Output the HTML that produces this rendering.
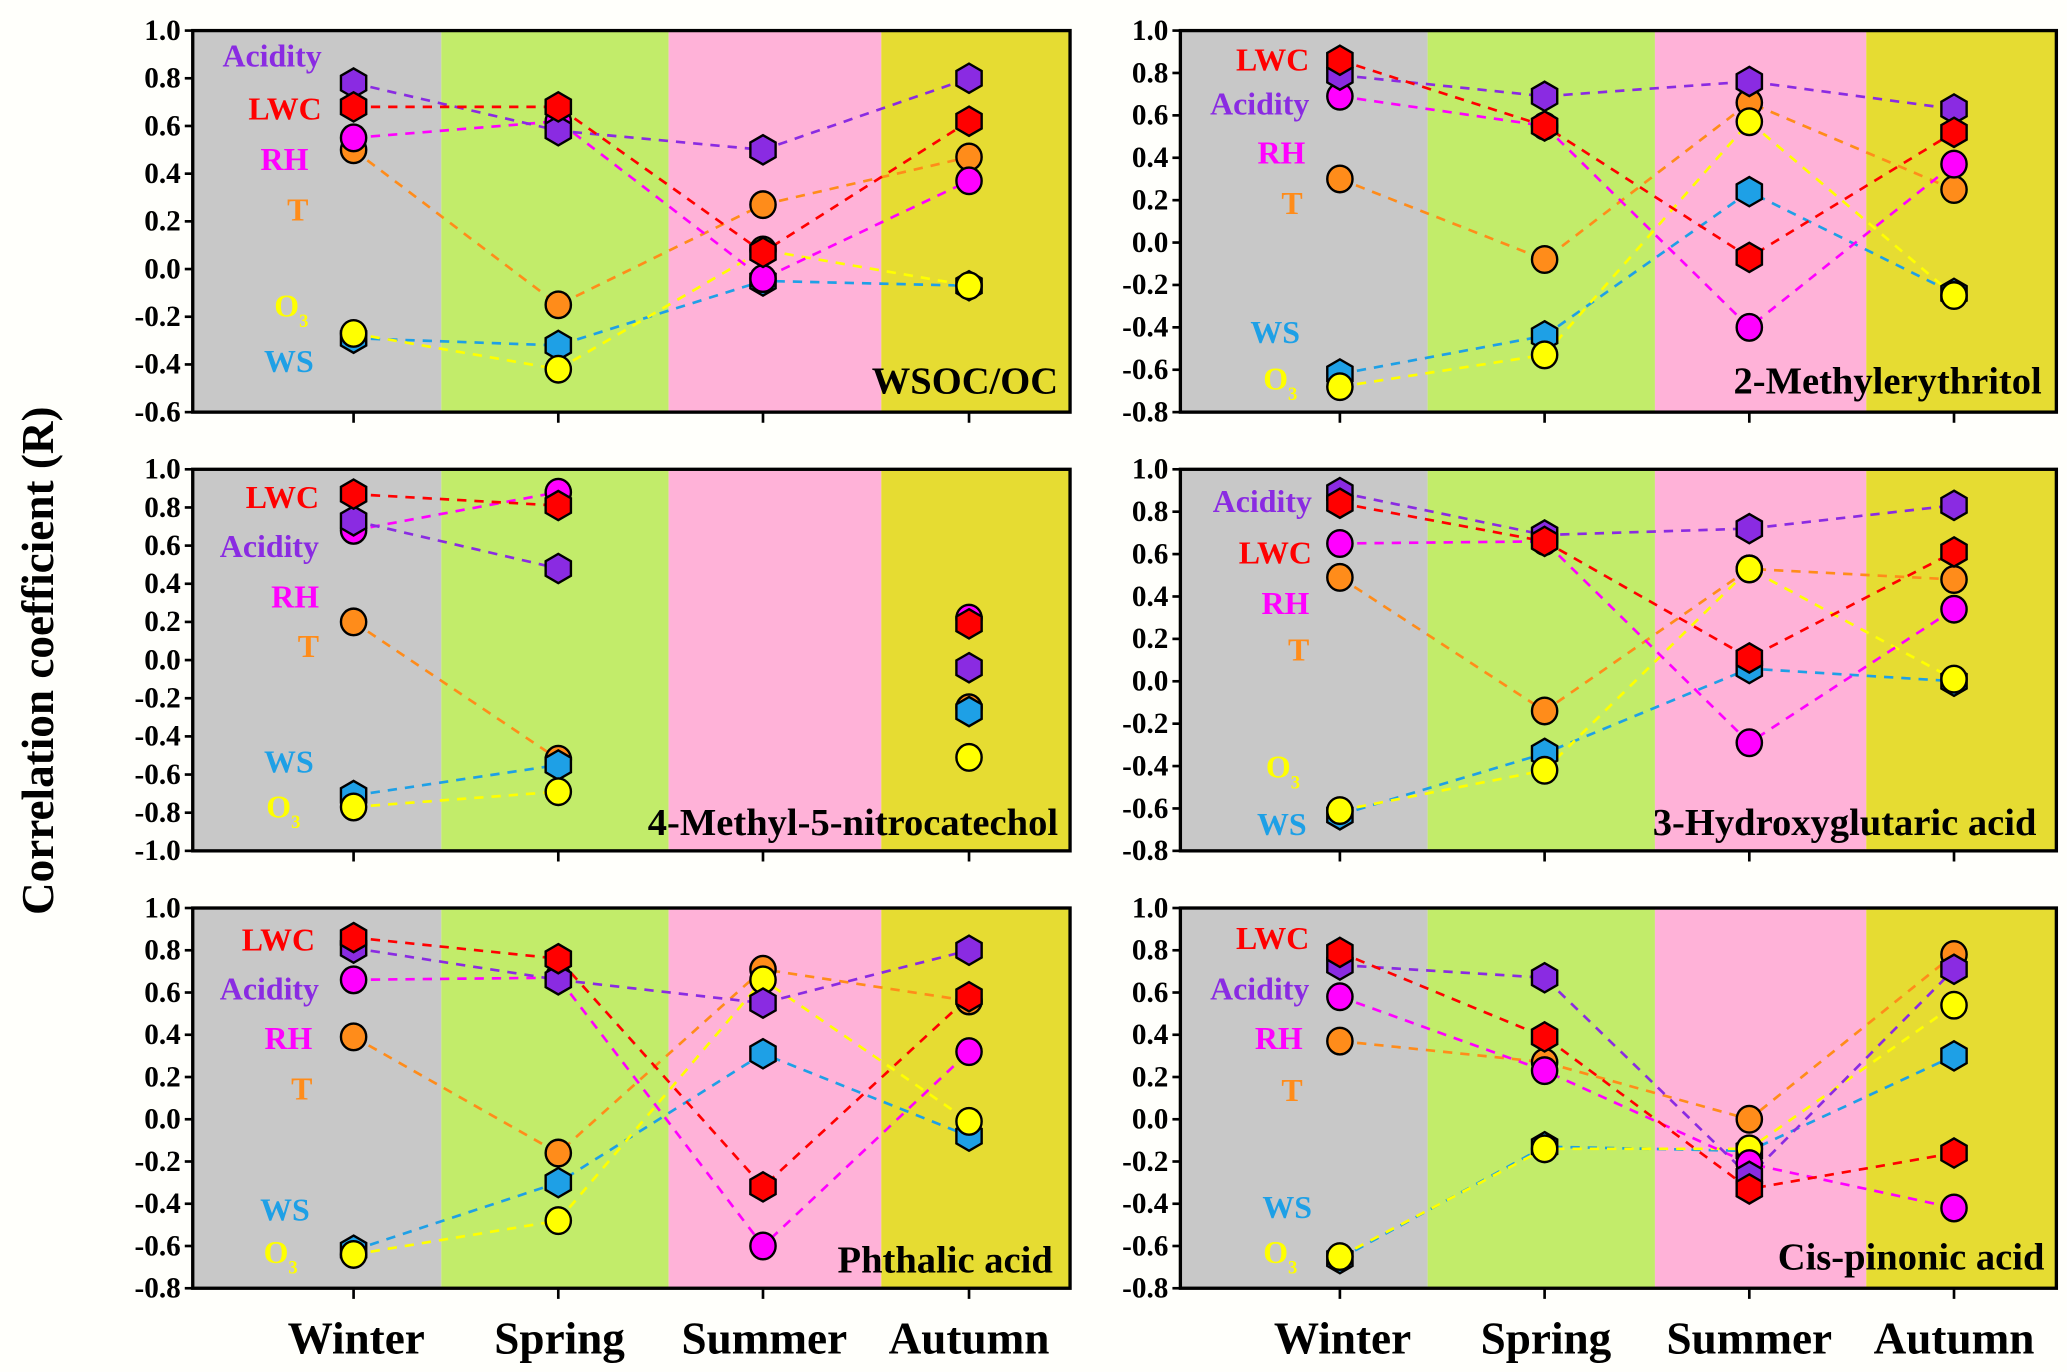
<!DOCTYPE html>
<html><head><meta charset="utf-8">
<style>
html,body{margin:0;padding:0;background:#fffffb;}
svg{display:block;font-family:"Liberation Serif","DejaVu Serif",serif;}
svg text{font-family:"Liberation Serif","DejaVu Serif",serif;font-weight:bold;}
</style></head>
<body>
<svg id="s" width="2067" height="1372" viewBox="0 0 1555 1032" preserveAspectRatio="none" xmlns="http://www.w3.org/2000/svg" font-family="Liberation Serif, serif" font-weight="bold">
<rect width="1555" height="1032" fill="#fffffb"/>
<g id="bg"></g>
<g id="ln"></g>
<g id="mk"></g>
<g id="ax"></g>
<g font-size="24" text-anchor="end" font-family="Liberation Serif, serif">
<!-- P1 -->
<text x="242" y="50" fill="#8A2BE2">Acidity</text>
<text x="242" y="90" fill="#FF0000">LWC</text>
<text x="232" y="128" fill="#FF00FF">RH</text>
<text x="232" y="166" fill="#FF8C1A">T</text>
<text x="232" y="238" fill="#FFFF00">O<tspan font-size="14" dy="8">3</tspan></text>
<text x="236" y="280" fill="#1EA0E6">WS</text>
<!-- P2 -->
<text x="985" y="53" fill="#FF0000">LWC</text>
<text x="985" y="86" fill="#8A2BE2">Acidity</text>
<text x="982" y="123" fill="#FF00FF">RH</text>
<text x="980" y="161" fill="#FF8C1A">T</text>
<text x="978" y="258" fill="#1EA0E6">WS</text>
<text x="976" y="293" fill="#FFFF00">O<tspan font-size="14" dy="8">3</tspan></text>
<!-- P3 -->
<text x="240" y="382" fill="#FF0000">LWC</text>
<text x="240" y="419" fill="#8A2BE2">Acidity</text>
<text x="240" y="457" fill="#FF00FF">RH</text>
<text x="240" y="494" fill="#FF8C1A">T</text>
<text x="236" y="581" fill="#1EA0E6">WS</text>
<text x="226" y="615" fill="#FFFF00">O<tspan font-size="14" dy="8">3</tspan></text>
<!-- P4 -->
<text x="987" y="385" fill="#8A2BE2">Acidity</text>
<text x="987" y="424" fill="#FF0000">LWC</text>
<text x="985" y="462" fill="#FF00FF">RH</text>
<text x="985" y="497" fill="#FF8C1A">T</text>
<text x="978" y="585" fill="#FFFF00">O<tspan font-size="14" dy="8">3</tspan></text>
<text x="983" y="628" fill="#1EA0E6">WS</text>
<!-- P5 -->
<text x="237" y="715" fill="#FF0000">LWC</text>
<text x="240" y="752" fill="#8A2BE2">Acidity</text>
<text x="235" y="789" fill="#FF00FF">RH</text>
<text x="235" y="827" fill="#FF8C1A">T</text>
<text x="233" y="918" fill="#1EA0E6">WS</text>
<text x="224" y="950" fill="#FFFF00">O<tspan font-size="14" dy="8">3</tspan></text>
<!-- P6 -->
<text x="985" y="714" fill="#FF0000">LWC</text>
<text x="985" y="752" fill="#8A2BE2">Acidity</text>
<text x="980" y="789" fill="#FF00FF">RH</text>
<text x="980" y="828" fill="#FF8C1A">T</text>
<text x="987" y="916" fill="#1EA0E6">WS</text>
<text x="976" y="950" fill="#FFFF00">O<tspan font-size="14" dy="8">3</tspan></text>
</g>
<g font-size="29" text-anchor="end" fill="#000" font-family="Liberation Serif, serif">
<text x="796" y="296">WSOC/OC</text>
<text x="1536" y="296">2-Methylerythritol</text>
<text x="796" y="628">4-Methyl-5-nitrocatechol</text>
<text x="1532" y="628">3-Hydroxyglutaric acid</text>
<text x="792" y="957">Phthalic acid</text>
<text x="1538" y="955">Cis-pinonic acid</text>
</g>
<g font-size="34" text-anchor="middle" fill="#000" font-family="Liberation Serif, serif">
<text x="268" y="1018">Winter</text>
<text x="421" y="1018">Spring</text>
<text x="575" y="1018">Summer</text>
<text x="729" y="1018">Autumn</text>
<text x="1010" y="1018">Winter</text>
<text x="1163" y="1018">Spring</text>
<text x="1316" y="1018">Summer</text>
<text x="1470" y="1018">Autumn</text>
</g>
<text x="0" y="0" font-size="34" text-anchor="middle" font-family="Liberation Serif, serif" transform="translate(40,497) rotate(-90)">Correlation coefficient (R)</text>
<g id="tl" font-size="22" text-anchor="end" fill="#000" font-family="Liberation Serif, serif"></g>
</svg>
<script>
var NS="http://www.w3.org/2000/svg";
function el(p,t,a){var e=document.createElementNS(NS,t);for(var k in a)e.setAttribute(k,a[k]);document.getElementById(p).appendChild(e);return e;}
var C={A:"#8A2BE2",L:"#FF0000",R:"#FF00FF",T:"#FF8C1A",O:"#FFFF00",W:"#1EA0E6"};
var HEX={A:1,L:1,W:1};
var P=[
{x0:145,x1:805,y0:23,y1:310,max:1,min:-0.6,bands:[145,332,503,663,805],cx:[266,420,574,729],
 d:{T:[0.50,-0.15,0.27,0.47],W:[-0.29,-0.32,-0.05,-0.07],O:[-0.27,-0.42,0.08,-0.07],R:[0.55,0.62,-0.04,0.37],A:[0.78,0.58,0.50,0.80],L:[0.68,0.68,0.07,0.62]}},
{x0:888,x1:1547,y0:23,y1:310,max:1,min:-0.8,bands:[888,1074,1245,1404,1547],cx:[1008,1162,1316,1470],
 d:{T:[0.30,-0.08,0.66,0.25],W:[-0.62,-0.44,0.24,-0.24],O:[-0.68,-0.53,0.57,-0.25],R:[0.69,0.55,-0.40,0.37],A:[0.79,0.69,0.76,0.63],L:[0.86,0.55,-0.07,0.52]}},
{x0:145,x1:805,y0:353,y1:640,max:1,min:-1,bands:[145,332,503,663,805],cx:[266,420,574,729],nosum:1,
 d:{T:[0.20,-0.52,null,-0.25],W:[-0.71,-0.55,null,-0.27],O:[-0.77,-0.69,null,-0.51],R:[0.68,0.88,null,0.22],A:[0.73,0.48,null,-0.04],L:[0.87,0.81,null,0.19]}},
{x0:888,x1:1547,y0:353,y1:640,max:1,min:-0.8,bands:[888,1074,1245,1404,1547],cx:[1008,1162,1316,1470],
 d:{T:[0.49,-0.14,0.53,0.48],W:[-0.63,-0.34,0.06,0.00],O:[-0.61,-0.42,0.53,0.01],R:[0.65,0.66,-0.29,0.34],A:[0.89,0.69,0.72,0.83],L:[0.84,0.66,0.11,0.61]}},
{x0:145,x1:805,y0:683,y1:969,max:1,min:-0.8,bands:[145,332,503,663,805],cx:[266,420,574,729],
 d:{T:[0.39,-0.16,0.71,0.56],W:[-0.62,-0.30,0.31,-0.08],O:[-0.64,-0.48,0.66,-0.01],R:[0.66,0.67,-0.60,0.32],A:[0.81,0.66,0.55,0.80],L:[0.86,0.76,-0.32,0.58]}},
{x0:888,x1:1547,y0:683,y1:969,max:1,min:-0.8,bands:[888,1074,1245,1404,1547],cx:[1008,1162,1316,1470],
 d:{T:[0.37,0.27,0.00,0.78],W:[-0.66,-0.13,-0.15,0.30],O:[-0.65,-0.14,-0.14,0.54],R:[0.58,0.23,-0.21,-0.42],A:[0.73,0.67,-0.27,0.71],L:[0.79,0.39,-0.33,-0.16]}}
];
var BC=["#C8C8C8","#C2EC6A","#FFB2D8","#E6DC32"];
var order=["T","W","O","R","A","L"];
P.forEach(function(p){
 var Y=function(v){return p.y0+(p.max-v)/(p.max-p.min)*(p.y1-p.y0);};
 for(var i=0;i<4;i++)el("bg","rect",{x:p.bands[i],y:p.y0,width:p.bands[i+1]-p.bands[i],height:p.y1-p.y0,fill:BC[i]});
 order.forEach(function(k){
  var a=p.d[k],pts=[];
  for(var i=0;i<4;i++){ if(a[i]===null){ if(pts.length>1)el("ln","polyline",{points:pts.join(" "),fill:"none",stroke:C[k],"stroke-width":2,"stroke-dasharray":"7,6"}); pts=[]; continue;} pts.push(p.cx[i]+","+Y(a[i]).toFixed(1)); }
  if(pts.length>1)el("ln","polyline",{points:pts.join(" "),fill:"none",stroke:C[k],"stroke-width":2,"stroke-dasharray":"7,6"});
  for(var i=0;i<4;i++){ if(a[i]===null)continue; var x=p.cx[i],y=Y(a[i]);
   if(HEX[k]){var r=11,w=9.5; el("mk","polygon",{points:[x+","+(y-r),(x+w)+","+(y-r/2),(x+w)+","+(y+r/2),x+","+(y+r),(x-w)+","+(y+r/2),(x-w)+","+(y-r/2)].join(" "),fill:C[k],stroke:"#000","stroke-width":1.8});}
   else el("mk","ellipse",{cx:x,cy:y,rx:9.5,ry:10,fill:C[k],stroke:"#000","stroke-width":1.8});
  }
 });
 el("ax","rect",{x:p.x0,y:p.y0,width:p.x1-p.x0,height:p.y1-p.y0,fill:"none",stroke:"#000","stroke-width":2.5});
 var n=Math.round((p.max-p.min)/0.2);
 for(var j=0;j<=n;j++){var v=p.max-j*0.2,y=p.y0+j*(p.y1-p.y0)/n;
  el("ax","line",{x1:p.x0-6,x2:p.x0,y1:y,y2:y,stroke:"#000","stroke-width":2});
  var t=el("tl","text",{x:p.x0-9,y:y+7});t.textContent=(Math.abs(v)<1e-9?0:v).toFixed(1);}
 p.cx.forEach(function(x){el("ax","line",{x1:x,x2:x,y1:p.y1,y2:p.y1+8,stroke:"#000","stroke-width":2});});
});
</script>
</body></html>
